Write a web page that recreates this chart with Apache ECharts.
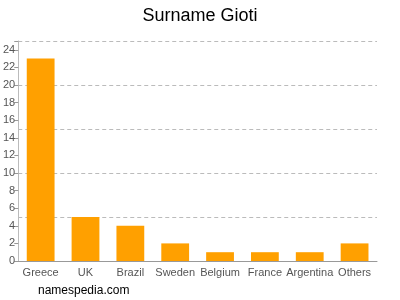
<!DOCTYPE html>
<html><head><meta charset="utf-8">
<script src="https://cdn.jsdelivr.net/npm/echarts@6/dist/echarts.min.js"></script>
<style>html,body{margin:0;padding:0;background:#fff}#c{width:400px;height:300px}</style>
</head><body><div id="c"></div>
<script>
var categories = ["Greece","UK","Brazil","Sweden","Belgium","France","Argentina","Others"];
var counts = [23,5,4,2,1,1,1,2];
var chart = echarts.init(document.getElementById('c'), null, {renderer:'canvas'});
chart.setOption({
  animation:false,
  title:[{text:'Surname Gioti',left:'center',top:2,textStyle:{fontFamily:'Liberation Sans, Arial, sans-serif',fontSize:18,fontWeight:'normal',color:'#000'}},
         {text:'namespedia.com',left:38,top:285,padding:0,textStyle:{fontFamily:'Liberation Sans, Arial, sans-serif',fontSize:12,fontWeight:'normal',color:'#000'}}],
  grid:{left:18,right:23,top:41,bottom:39,containLabel:false},
  xAxis:{type:'category',data:categories,
    axisLine:{lineStyle:{color:'#999'}},axisTick:{alignWithLabel:true,lineStyle:{color:'#999'}},
    axisLabel:{color:'#555',fontSize:11,fontFamily:'Liberation Sans, Arial, sans-serif',margin:6,interval:0}},
  yAxis:[{type:'value',min:0,max:25,interval:2,
    axisLine:{show:true,lineStyle:{color:'#bbb'}},axisTick:{show:true,length:4,lineStyle:{color:'#999'}},
    axisLabel:{color:'#555',fontSize:11,fontFamily:'Liberation Sans, Arial, sans-serif',margin:3,
      formatter:function(v){return v>24?'':v;}},
    splitLine:{show:false}},
   {type:'value',min:0,max:25,interval:5,position:'left',
    axisLine:{show:false},axisTick:{show:false},axisLabel:{show:false},
    splitLine:{show:true,lineStyle:{color:'#bbb',type:[4,3]}}}],
  series:[{type:'bar',data:counts,barWidth:'62%',yAxisIndex:0,itemStyle:{color:'#FFA000'}}]
});
</script></body></html>
